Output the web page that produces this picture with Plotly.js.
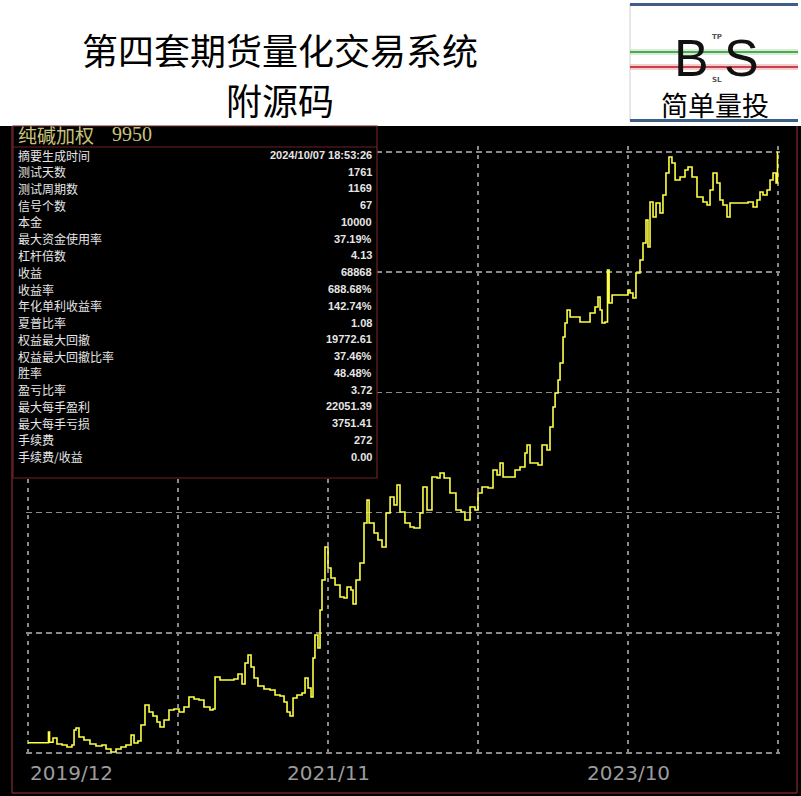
<!DOCTYPE html>
<html>
<head>
<meta charset="utf-8">
<script src="https://cdn.plot.ly/plotly-3.0.1.min.js"></script>
<style>
  html, body { margin: 0; padding: 0; background: #fff; }
  #chart { width: 801px; height: 796px; }
</style>
</head>
<body>
<div id="chart"></div>
<script>
// Equity curve of the soda-ash (纯碱加权) strategy back-test.
// x: months since 2019/12, y: account equity.
const months = [
  0, 1.53, 1.57, 1.65, 1.92, 2.22, 2.61, 2.99, 3.37, 3.53, 3.68, 3.91, 4.29, 4.75, 5.21, 5.67,
  5.98, 6.36, 6.75, 7.13, 7.51, 7.90, 8.13, 8.43, 8.66, 8.97, 9.28, 9.58, 9.89, 10.12, 10.43,
  10.81, 11.19, 11.58, 11.96, 12.34, 12.73, 13.11, 13.49, 13.95, 14.18, 14.34, 14.72, 15.33,
  15.79, 16.10, 16.41, 16.64, 16.87, 17.10, 17.33, 17.63, 18.09, 18.55, 18.94, 19.32, 19.63,
  19.86, 20.09, 20.32, 20.62, 21.01, 21.24, 21.47, 21.70, 21.85, 22.00, 22.23, 22.39, 22.54,
  22.77, 23.00, 23.23, 23.54, 23.92, 24.23, 24.46, 24.76, 24.92, 25.15, 25.45, 25.76, 25.99,
  26.15, 26.53, 26.83, 27.14, 27.45, 27.76, 28.06, 28.29, 28.52, 28.90, 29.29, 29.59, 30.05,
  30.28, 30.59, 30.97, 31.36, 31.59, 31.90, 32.35, 32.81, 33.20, 33.50, 33.89, 34.27, 34.50,
  34.81, 35.27, 35.65, 35.96, 36.19, 36.42, 36.95, 37.34, 37.72, 38.10, 38.26, 38.49, 39.10,
  39.41, 39.79, 40.02, 40.25, 40.41, 40.64, 40.79, 41.02, 41.17, 41.33, 41.56, 42.32, 43.09,
  43.47, 43.70, 43.86, 44.01, 44.24, 44.43, 44.55, 44.78, 45.77, 46.00, 46.15, 46.38, 46.61,
  46.92, 47.15, 47.38, 47.53, 47.69, 47.92, 48.15, 48.45, 48.68, 48.91, 49.14, 49.37, 49.61,
  49.99, 50.37, 50.60, 50.91, 51.29, 51.75, 52.06, 52.29, 52.52, 52.82, 53.05, 53.28, 53.59,
  53.82, 55.20, 55.59, 55.89, 56.12, 56.35, 56.66, 56.89, 57.12, 57.35, 57.46
];
const equity = [
  10000, 10000, 11246, 10046, 10547, 9848, 9732, 9499, 9732, 11479, 11712, 10664, 10314, 9848, 9615, 9732,
  9266, 8916, 9266, 9499, 9732, 10896, 9965, 10198, 12061, 14391, 13575, 13109, 12410, 11828, 12643,
  13808, 13925, 13575, 14158, 15322, 15089, 14973, 14158, 13808, 13925, 17652, 17302, 17302,
  17419, 18001, 16836, 19282, 20214, 18816, 17535, 16603, 16254, 16138, 15555, 15439, 14740,
  13575, 13109, 15206, 15555, 15788, 17535, 16371, 15322, 19865, 22543, 21029, 25455, 28949,
  32793, 30347, 29182, 28367, 26969, 26853, 28134, 27785, 26154, 28949, 30929, 35588, 38267,
  35588, 34423, 33608, 32793, 36753, 38616, 37685, 40014, 36869, 35588, 35122, 35006, 36753,
  39781, 37102, 40945, 40829, 41412, 40829, 39082, 37102, 36869, 35937, 37452, 37102, 39082,
  39781, 39665, 41761, 41179, 42576, 40945, 40945, 41761, 42110, 43741, 44673, 42576, 42343,
  44673, 44090, 46769, 49099, 50729, 52243, 54223, 57252, 58882, 60396, 59581, 58998, 60047,
  60746, 61910, 60396, 58882, 58998, 65055, 61211, 62143, 62143, 62726, 62376, 61794, 64706,
  66220, 68200, 70879, 67734, 72975, 71228, 72859, 71694, 73791, 76353, 78217, 77518, 75538,
  75888, 76703, 77053, 75888, 73558, 72976, 72626, 74373, 76353, 75189, 73209, 72626, 71228,
  72859, 72976, 72393, 73209, 74140, 73791, 74373, 75538, 76353, 75189, 78868
];

// Date labels under the time axis
const tickMonths = [0, 23, 46];
const tickLabels = ['2019/12', '2021/11', '2023/10'];

// Back-test summary panel
const panelName = '纯碱加权';
const panelCode = '9950';
const statNames = [
  '摘要生成时间', '测试天数', '测试周期数', '信号个数', '本金', '最大资金使用率', '杠杆倍数',
  '收益', '收益率', '年化单利收益率', '夏普比率', '权益最大回撤', '权益最大回撤比率', '胜率',
  '盈亏比率', '最大每手盈利', '最大每手亏损', '手续费', '手续费/收益'
];
const statValues = [
  '2024/10/07 18:53:26', '1761', '1169', '67', '10000', '37.19%', '4.13',
  '68868', '688.68%', '142.74%', '1.08', '19772.61', '37.46%', '48.48%',
  '3.72', '22051.39', '3751.41', '272', '0.00'
];

const headlineLines = ['第四套期货量化交易系统', '附源码'];
const brandName = '简单量投';

// ---- page geometry (pixels) ----
const FIG_W = 801, FIG_H = 796;
const M = { l: 26, r: 21, t: 146, b: 41 };
const PW = FIG_W - M.l - M.r, PH = FIG_H - M.t - M.b;
const X = px => (px - M.l) / PW;            // pixel -> paper x
const Y = py => (FIG_H - M.b - py) / PH;    // pixel -> paper y

const frameRed = '#6e2323';
const paperLine = (x0, y0, x1, y1, color, width) => ({
  type: 'line', xref: 'paper', yref: 'paper',
  x0: X(x0), x1: X(x1), y0: Y(y0), y1: Y(y1),
  line: { color, width }, layer: 'above'
});
const shapes = [
  // dark chart canvas under the white header
  { type: 'rect', xref: 'paper', yref: 'paper', x0: X(0), x1: X(FIG_W), y0: Y(FIG_H), y1: Y(126),
    fillcolor: '#000', line: { width: 0 }, layer: 'below' },
  // outer frame
  paperLine(12, 126, 12, 793, frameRed, 1.5),
  paperLine(797, 126, 797, 793, frameRed, 1.5),
  paperLine(12, 793, 797, 793, frameRed, 1.5),
  // summary panel
  { type: 'rect', xref: 'paper', yref: 'paper', x0: X(13), x1: X(377), y0: Y(478), y1: Y(126),
    fillcolor: '#000', line: { color: frameRed, width: 1.2 }, layer: 'above' },
  paperLine(13, 147, 377, 147, frameRed, 1.2),
  // brand badge
  paperLine(630, 4, 630, 121, '#d0d0d0', 1),
  paperLine(630, 4.5, 798, 4.5, '#3e5f85', 3),
  paperLine(630, 120.5, 798, 120.5, '#3e5f85', 3),
  paperLine(630, 52, 798, 52, 'rgba(90,180,90,0.25)', 6),
  paperLine(630, 52, 798, 52, '#4fa94f', 2),
  paperLine(630, 67, 798, 67, 'rgba(220,90,90,0.3)', 6),
  paperLine(630, 67, 798, 67, '#c8404a', 2)
];

const annotations = [];
const ann = (text, px, py, opts) => Object.assign({
  text, xref: 'paper', yref: 'paper', x: X(px), y: Y(py),
  showarrow: false, xanchor: 'center', yanchor: 'middle'
}, opts);

// two-line headline
headlineLines.forEach((line, i) => {
  annotations.push(ann(line, 280, 49 + i * 50, {
    font: { family: 'Noto Sans CJK SC', size: 36, color: '#000' } }));
});

// brand badge text
annotations.push(ann('B', 691, 58, { font: { family: 'Liberation Sans', size: 52, color: '#111' } }));
annotations.push(ann('S', 741, 58, { font: { family: 'Liberation Sans', size: 52, color: '#111' } }));
annotations.push(ann('TP', 717, 37, { font: { family: 'DejaVu Sans', size: 7, color: '#555', weight: 'bold' } }));
annotations.push(ann('SL', 717, 80, { font: { family: 'DejaVu Sans', size: 7, color: '#555', weight: 'bold' } }));
annotations.push(ann(brandName, 715, 104.5, { font: { family: 'Noto Sans CJK SC', size: 27, color: '#000' } }));

// summary panel
annotations.push(ann(panelName, 16, 134.5, { xanchor: 'left',
  font: { family: 'Noto Sans CJK SC', size: 19, color: '#c9c27a' } }));
annotations.push(ann(panelCode, 110, 134.5, { xanchor: 'left',
  font: { family: 'Liberation Serif', size: 20, color: '#c9c27a' } }));
statNames.forEach((name, i) => {
  const py = 155 + i * 16.75;
  annotations.push(ann(name, 16, py, { xanchor: 'left',
    font: { family: 'Noto Sans CJK SC', size: 12, color: '#e6e6e6' } }));
  annotations.push(ann(statValues[i], 374, py, { xanchor: 'right',
    font: { family: 'Liberation Sans', size: 11, color: '#e6e6e6', weight: 'bold' } }));
});

// time-axis labels
tickMonths.forEach((m, i) => {
  annotations.push({
    text: tickLabels[i], xref: 'x', yref: 'paper', x: m, y: Y(773),
    showarrow: false, xanchor: i === 0 ? 'left' : 'center', yanchor: 'middle',
    font: { family: 'DejaVu Sans', size: 20, color: '#9c9c9c' }
  });
});

const trace = {
  type: 'scatter', mode: 'lines', x: months, y: equity,
  line: { color: '#ffff45', width: 1.6, shape: 'hv' },
  hoverinfo: 'skip'
};

const gridColor = '#8a8a8a';
const layout = {
  width: FIG_W, height: FIG_H,
  margin: M,
  paper_bgcolor: '#ffffff',
  plot_bgcolor: '#000000',
  showlegend: false,
  xaxis: {
    range: [-2 / 13.043, 57.5 + 2 / 13.043],
    tickmode: 'linear', tick0: 0, dtick: 11.5,
    showticklabels: false, ticks: '',
    showgrid: true, gridcolor: gridColor, gridwidth: 1.5, griddash: '4px,5px',
    zeroline: false, showline: false, fixedrange: true
  },
  yaxis: {
    range: [8800 - 2 * 116.47, 8800 + 607 * 116.47],
    tickmode: 'linear', tick0: 8800, dtick: 14000,
    showticklabels: false, ticks: '',
    showgrid: true, gridcolor: gridColor, gridwidth: 1.5, griddash: '6px,4px',
    zeroline: false, showline: false, fixedrange: true
  },
  shapes, annotations
};

Plotly.newPlot('chart', [trace], layout, { displayModeBar: false, staticPlot: true });
</script>
</body>
</html>
